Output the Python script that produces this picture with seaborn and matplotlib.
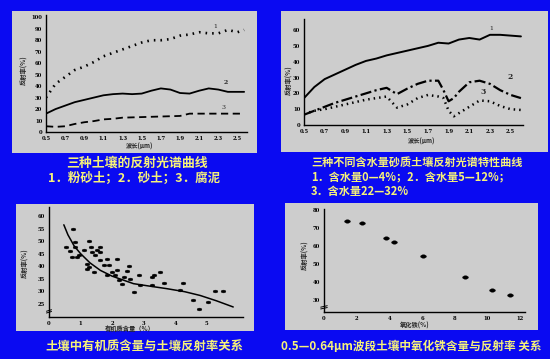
import numpy as np
import seaborn as sns
import matplotlib.pyplot as plt
from matplotlib.patches import Rectangle
from matplotlib.markers import MarkerStyle
from matplotlib.transforms import Affine2D

sns.set_style("white")
plt.rcParams['font.family'] = ['Noto Sans CJK SC', 'DejaVu Sans']

# ---- Panel 1: ba loai dat ----
p1_x1 = [0.5, 0.6, 0.7, 0.8, 0.9, 1.0, 1.1, 1.2, 1.3, 1.4, 1.5, 1.6, 1.7, 1.8, 1.9, 2.0, 2.1, 2.2, 2.3, 2.4, 2.5, 2.57]
p1_y1 = [30, 42, 48, 54, 57, 61, 66, 69, 72, 75, 78, 80, 80, 81, 84, 85, 87, 86, 86, 89, 87, 89]
p1_x2 = [0.5, 0.6, 0.7, 0.8, 0.9, 1.0, 1.1, 1.2, 1.3, 1.4, 1.5, 1.6, 1.7, 1.8, 1.9, 2.0, 2.1, 2.2, 2.3, 2.4, 2.5, 2.57]
p1_y2 = [16, 20, 23, 26, 28, 30, 32, 33, 33.5, 33, 33.5, 36, 38, 37, 34, 33.5, 36, 38, 37, 35, 35, 35]
p1_x3 = [0.5, 0.6, 0.7, 0.8, 0.9, 1.0, 1.1, 1.2, 1.3, 1.5, 1.7, 1.9, 2.0, 2.1, 2.3, 2.5, 2.57]
p1_y3 = [5, 4.5, 5, 7, 8.5, 9.5, 11, 11.5, 12.5, 13, 13.5, 14, 16, 16, 16, 16, 16]

# ---- Panel 2: ba muc do am ----
p2_x1 = [0.5, 0.6, 0.7, 0.8, 0.9, 1.0, 1.1, 1.2, 1.3, 1.4, 1.5, 1.6, 1.7, 1.8, 1.9, 2.0, 2.1, 2.2, 2.3, 2.4, 2.5, 2.6]
p2_y1 = [17, 24, 29, 32, 35, 38, 40.5, 42, 44, 45.5, 47, 48.5, 50, 52, 51.5, 54, 55, 54, 57, 57, 56.5, 56]
p2_x2 = [0.5, 0.6, 0.7, 0.8, 0.9, 1.0, 1.1, 1.2, 1.3, 1.4, 1.5, 1.6, 1.7, 1.8, 1.85, 1.9, 1.95, 2.0, 2.1, 2.2, 2.3, 2.4, 2.5, 2.6]
p2_y2 = [6.5, 9, 11.5, 14, 16, 18, 20, 22, 23.5, 19.5, 23, 26, 28, 28, 22, 15, 17, 21, 27, 28, 26, 22, 19, 17]
p2_x3 = [0.55, 0.6, 0.7, 0.8, 0.9, 1.0, 1.1, 1.2, 1.3, 1.4, 1.5, 1.6, 1.7, 1.8, 1.85, 1.9, 1.95, 2.0, 2.1, 2.2, 2.3, 2.4, 2.5, 2.6]
p2_y3 = [8, 9, 10, 11.5, 13, 14.5, 16, 17, 18, 11, 13, 17, 19, 18, 17, 9, 5.5, 7.5, 11.5, 15.5, 15, 12, 10, 9.5]

# ---- Panel 3: chat huu co ----
om_x = [0.77, 0.53, 0.84, 0.66, 0.74, 0.95, 0.84, 1.1, 1.26, 1.32, 1.37, 1.53, 1.63, 1.63, 1.47,
        1.21, 1.26, 1.42, 1.21, 1.63, 1.84, 1.74, 1.89, 1.84, 2.0, 2.16, 2.16, 2.1, 2.21, 2.32,
        2.37, 2.47, 2.53, 2.58, 2.68, 2.84, 2.89, 3.26, 3.32, 3.26, 3.53, 3.63, 4.16, 4.26, 4.58,
        4.74, 5.05, 5.26, 5.53, 0.89]
om_y = [54.9, 47.6, 49.6, 45.9, 43.6, 44.3, 47.6, 46.3, 50.0, 47.6, 45.6, 46.5, 47.6, 45.6, 44.3,
        41.0, 39.6, 37.6, 39.0, 42.3, 43.0, 40.3, 40.3, 36.3, 37.6, 43.0, 38.3, 36.3, 34.3, 33.0,
        35.6, 37.9, 40.0, 35.0, 29.7, 36.3, 32.3, 35.6, 36.6, 32.6, 37.6, 33.4, 30.3, 33.4, 26.3,
        23.0, 25.7, 30.0, 30.0, 43.6]
om_fit_x = [0.47, 0.6, 0.8, 1.0, 1.3, 1.63, 2.0, 2.68, 3.2, 3.74, 4.3, 4.79, 5.3, 5.84]
om_fit_y = [56.5, 52.5, 48, 45, 41.3, 38.3, 36, 33, 32, 31, 29.8, 28.3, 26.2, 23.7]

# ---- Panel 4: oxit sat ----
fe_x = [1.43, 2.33, 3.78, 4.27, 6.03, 8.63, 10.27, 11.39]
fe_y = [73.9, 72.6, 64.6, 61.9, 54.1, 42.4, 35.6, 32.8]

W, H = 550, 359
BLUE = '#0a0af2'
GRAY = '#cdcdcd'
YELLOW = '#f6f27a'
TICK_FONT = dict(family='DejaVu Serif', size=3.8, weight='bold')


def rect(l, t, r, b):
    return [l / W, 1 - b / H, (r - l) / W, (b - t) / H]


def panel(l, t, r, b):
    fig.patches.append(Rectangle((l / W, 1 - b / H), (r - l) / W, (b - t) / H,
                                 transform=fig.transFigure, facecolor=GRAY,
                                 edgecolor='none', zorder=-10))


def style_ax(ax):
    ax.patch.set_alpha(0)
    for s in ['top', 'right']:
        ax.spines[s].set_visible(False)
    for s in ['left', 'bottom']:
        ax.spines[s].set_color('black')
        ax.spines[s].set_linewidth(1.0)
    ax.tick_params(direction='inout', length=3, width=0.8, pad=1.2, colors='black')
    for lab in ax.get_xticklabels() + ax.get_yticklabels():
        lab.set_fontproperties(TICK_FONT)
    ax.set_xlabel('')
    ax.set_ylabel('')


def ftext(x, y, s, **kw):
    fig.text(x / W, 1 - y / H, s, **kw)


fig = plt.figure(figsize=(5.5, 3.59), dpi=100, facecolor=BLUE)

# ================= Panel 1 =================
panel(12, 11, 257, 153)
ax1 = fig.add_axes(rect(46, 15, 247, 132))
sns.lineplot(x=p1_x1, y=p1_y1, ax=ax1, color='black', lw=1.9, linestyle=(0, (0.6, 1.9)))
sns.lineplot(x=p1_x2, y=p1_y2, ax=ax1, color='black', lw=1.3)
sns.lineplot(x=p1_x3, y=p1_y3, ax=ax1, color='black', lw=1.3, linestyle=(0, (4, 2.5)))
ax1.set_xlim(0.5, 2.6)
ax1.set_ylim(0, 102)
ax1.set_xticks(np.arange(0.5, 2.51, 0.2))
ax1.set_xticklabels(['0.5', '0.7', '0.9', '1.1', '1.3', '1.5', '1.7', '1.9', '2.1', '2.3', '2.5'])
ax1.set_yticks(range(0, 101, 10))
style_ax(ax1)
ax1.text(2.25, 91, '1', fontsize=4.5, family='DejaVu Serif')
ax1.text(2.36, 42, '2', fontsize=4.5, family='DejaVu Serif', weight='bold')
ax1.text(2.33, 20, '3', fontsize=4.5, family='DejaVu Serif')
ftext(140, 146, '波长(μm)', fontsize=4.5, weight='bold', ha='center', va='center')
ftext(24, 70, '反射率(%)', fontsize=4.5, weight='bold', ha='center', va='center', rotation=90)

# ================= Panel 2 =================
panel(281, 11, 548, 152)
ax2 = fig.add_axes(rect(304, 19, 523, 125))
sns.lineplot(x=p2_x1, y=p2_y1, ax=ax2, color='black', lw=1.4)
sns.lineplot(x=p2_x2, y=p2_y2, ax=ax2, color='black', lw=1.6, linestyle=(0, (5, 1.5, 1, 1.5)))
sns.lineplot(x=p2_x3, y=p2_y3, ax=ax2, color='black', lw=1.8, linestyle=(0, (0.6, 1.6)))
ax2.set_xlim(0.5, 2.62)
ax2.set_ylim(0, 67)
ax2.set_xticks(np.arange(0.5, 2.51, 0.2))
ax2.set_xticklabels(['0.5', '0.7', '0.9', '1.1', '1.3', '1.5', '1.7', '1.9', '2.1', '2.3', '2.5'])
ax2.set_yticks(range(0, 61, 10))
style_ax(ax2)
ax2.text(2.29, 60, '1', fontsize=4.5, family='DejaVu Serif')
ax2.text(2.47, 29, '2', fontsize=5.5, family='DejaVu Serif', weight='bold')
ax2.text(2.21, 19.5, '3', fontsize=5.5, family='DejaVu Serif', weight='bold')
ftext(422, 141, '波长(μm)', fontsize=4.5, weight='bold', ha='center', va='center')
ftext(289, 80, '反射率(%)', fontsize=4.5, weight='bold', ha='center', va='center', rotation=90)

# ================= Panel 3 =================
panel(16, 204, 254, 331)
ax3 = fig.add_axes(rect(49, 207, 243, 317))
dash_dot = MarkerStyle('o', transform=Affine2D().scale(1.7, 1.0))
sns.scatterplot(x=om_x, y=om_y, ax=ax3, color='black', marker=dash_dot, s=4,
                edgecolor='black', linewidth=0.3)
sns.lineplot(x=om_fit_x, y=om_fit_y, ax=ax3, color='black', lw=1.1)
ax3.set_xlim(0, 6.15)
ax3.set_ylim(19.7, 63.6)
ax3.set_xticks(range(0, 6))
ax3.set_yticks(range(25, 61, 5))
style_ax(ax3)
ax3.plot([-0.08, 0.08], [22.0, 22.6], color='black', lw=0.7, clip_on=False)
ax3.plot([-0.08, 0.08], [21.3, 21.9], color='black', lw=0.7, clip_on=False)
ftext(130, 328, '有机质含量（%）', fontsize=4.5, weight='bold', ha='center', va='center')
ftext(25, 263, '反射率(%)', fontsize=4.5, weight='bold', ha='center', va='center', rotation=90)

# ================= Panel 4 =================
panel(285, 203, 538, 330)
ax4 = fig.add_axes(rect(324, 209, 525, 312))
sns.scatterplot(x=fe_x, y=fe_y, ax=ax4, color='black', marker=dash_dot, s=6,
                edgecolor='black', linewidth=0.3)
ax4.set_xlim(0, 12.3)
ax4.set_ylim(23.1, 80.5)
ax4.set_xticks(range(0, 13, 2))
ax4.set_yticks(range(30, 81, 10))
style_ax(ax4)
ax4.plot([-0.2, 0.2], [25.8, 26.6], color='black', lw=0.7, clip_on=False)
ax4.plot([-0.2, 0.2], [24.8, 25.6], color='black', lw=0.7, clip_on=False)
ftext(415, 325, '氧化铁(%)', fontsize=4.5, weight='bold', ha='center', va='center')
ftext(305, 255, '反射率(%)', fontsize=4.5, weight='bold', ha='center', va='center', rotation=90)

# ================= Captions =================
cap = dict(color=YELLOW, weight='bold', va='center')
ftext(137, 163, '三种土壤的反射光谱曲线', fontsize=9.3, ha='center', **cap)
ftext(134, 178, '1．粉砂土；2．砂土；3．腐泥', fontsize=9.0, ha='center', **cap)
ftext(311, 163, '三种不同含水量砂质土壤反射光谱特性曲线', fontsize=8.0, ha='left', **cap)
ftext(311, 177, '1．含水量0—4%；2．含水量5—12%；', fontsize=8.0, ha='left', **cap)
ftext(311, 191, '3．含水量22—32%', fontsize=8.0, ha='left', **cap)
ftext(144, 347, '土壤中有机质含量与土壤反射率关系', fontsize=8.9, ha='center', **cap)
ftext(411, 347, '0.5—0.64μm波段土壤中氧化铁含量与反射率 关系', fontsize=8.4, ha='center', **cap)

fig.savefig('out.png', dpi=100, facecolor=BLUE)
